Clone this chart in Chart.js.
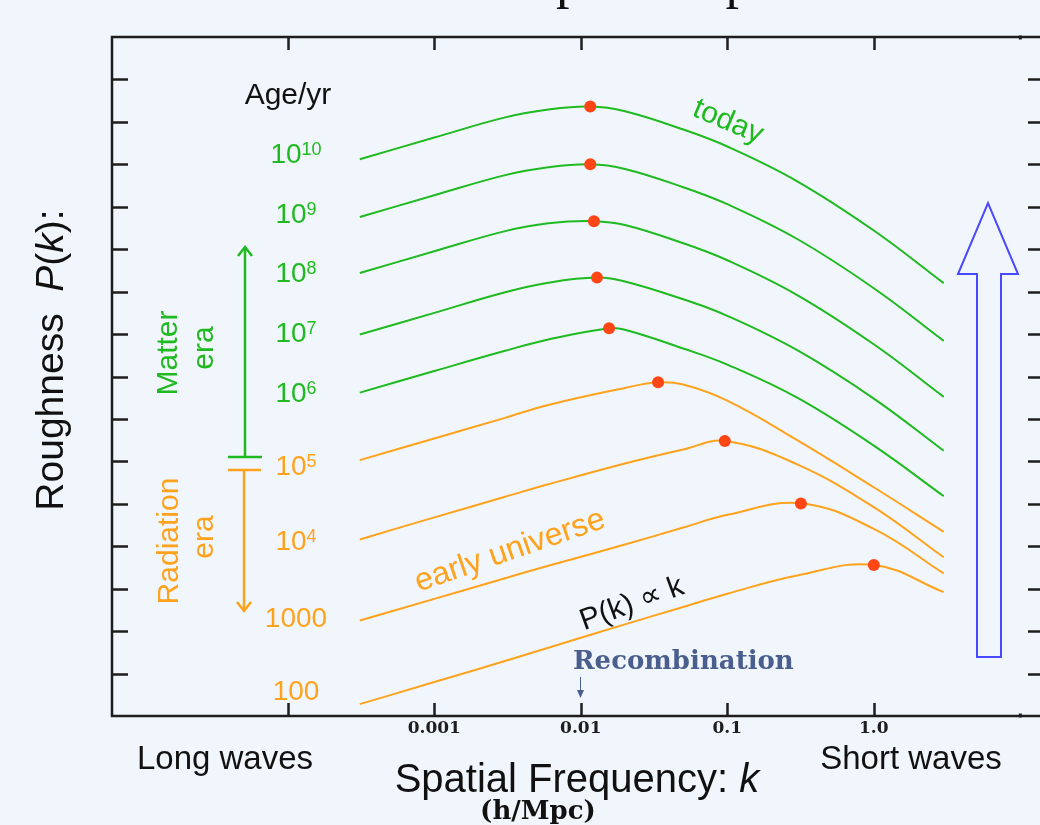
<!DOCTYPE html>
<html>
<head>
<meta charset="utf-8">
<title>Growth of the power spectrum</title>
<script src="https://cdn.jsdelivr.net/npm/chart.js@4.4.1/dist/chart.umd.min.js"></script>
<style>
  html, body { margin: 0; padding: 0; background: #f1f6fd; overflow: hidden; }
  #wrap { width: 1050px; height: 825px; }
</style>
</head>
<body>
<div id="wrap"><canvas id="psChart" width="1050" height="825"></canvas></div>
<script>
const kGrid = [3.1e-4, 1e-3, 3e-3, 6e-3, 0.02, 0.05, 0.1, 0.3, 1, 3];

// log10 P(k) per epoch (decades above the bottom of the frame), one value per kGrid entry
const age1e10 = [13.12, 13.63, 14.10, 14.29, 14.25, 13.82, 13.42, 12.60, 11.44, 10.20];
const age1e9  = [11.76, 12.27, 12.74, 12.93, 12.89, 12.46, 12.06, 11.24, 10.08, 8.84];
const age1e8  = [10.44, 10.95, 11.42, 11.61, 11.57, 11.14, 10.74, 9.92, 8.76, 7.52];
const age1e7  = [8.99, 9.50, 9.98, 10.21, 10.24, 9.82, 9.43, 8.62, 7.48, 6.25];
const age1e6  = [7.62, 8.13, 8.60, 8.87, 9.10, 8.66, 8.28, 7.50, 6.37, 5.18];
const age1e5  = [6.03, 6.54, 7.02, 7.33, 7.73, 7.81, 7.43, 6.50, 5.39, 4.34];
const age1e4  = [4.16, 4.68, 5.16, 5.46, 5.95, 6.28, 6.47, 5.93, 4.92, 3.74];
const age1e3  = [2.25, 2.76, 3.24, 3.54, 4.04, 4.44, 4.74, 5.00, 4.41, 3.36];
const age1e2  = [0.28, 0.80, 1.29, 1.61, 2.16, 2.57, 2.88, 3.31, 3.56, 2.92];

// turnover (peak) of each curve, the red dots
const peakK    = [0.0116, 0.0116, 0.0123, 0.0129, 0.0156, 0.0337, 0.0962, 0.318, 1.0];
const peakLogP = [14.36, 13.00, 11.66, 10.33, 9.135, 7.863, 6.48, 5.01, 3.56];

// age labels on the left: base and superscript
const ageBase = ["10", "10", "10", "10", "10", "10", "10", "1000", "100"];
const ageExp  = ["10", "9", "8", "7", "6", "5", "4", "", ""];

// x axis ticks
const xTickValues = [1e-4, 1e-3, 1e-2, 0.1, 1];
const xTickLabels = ["", "0.001", "0.01", "0.1", "1.0"];

const curves = [age1e10, age1e9, age1e8, age1e7, age1e6, age1e5, age1e4, age1e3, age1e2];
const matterCount = 5; // first five curves are matter era (green)

const GREEN = "#1fba1f";
const ORANGE = "#ffa21c";
const DOT = "#ff4614";
const SANS = "'Liberation Sans', 'DejaVu Sans', sans-serif";
const SERIF = "'DejaVu Serif', 'Liberation Serif', serif";

// merge the grid with the peak point, dropping a grid point that sits on the peak
function buildPoints(values, pk, pv) {
  const pts = [];
  kGrid.forEach(function (k, i) {
    if (Math.abs(Math.log10(k / pk)) > 0.03) pts.push({ x: k, y: values[i] });
  });
  pts.push({ x: pk, y: pv });
  pts.sort(function (a, b) { return a.x - b.x; });
  return pts;
}

const datasets = curves.map(function (vals, i) {
  const col = i < matterCount ? GREEN : ORANGE;
  return {
    data: buildPoints(vals, peakK[i], peakLogP[i]),
    borderColor: col,
    borderWidth: 2,
    pointRadius: 0,
    tension: 0.4,
    order: 2,
  };
});

datasets.push({
  data: peakK.map(function (k, i) { return { x: k, y: peakLogP[i] }; }),
  showLine: false,
  pointRadius: 6,
  pointBackgroundColor: DOT,
  pointBorderWidth: 0,
  order: 1,
});

// draw a string made of parts (some italic), centred at x,y and rotated
function drawParts(ctx, parts, x, y, angle, size, color, baseline) {
  ctx.save();
  ctx.translate(x, y);
  ctx.rotate(angle * Math.PI / 180);
  ctx.fillStyle = color;
  ctx.textAlign = "left";
  ctx.textBaseline = baseline || "alphabetic";
  let total = 0;
  parts.forEach(function (p) {
    ctx.font = (p.italic ? "italic " : "") + (p.bold ? "bold " : "") + size + "px " + (p.family || SANS);
    p.w = ctx.measureText(p.t).width;
    total += p.w;
  });
  let cx = -total / 2;
  parts.forEach(function (p) {
    ctx.font = (p.italic ? "italic " : "") + (p.bold ? "bold " : "") + size + "px " + (p.family || SANS);
    ctx.fillText(p.t, cx, 0);
    cx += p.w;
  });
  ctx.restore();
}

function arrowHead(ctx, x, y, dir) {
  // open "V" arrow head, dir = -1 up, +1 down
  ctx.beginPath();
  ctx.moveTo(x - 7, y - dir * 9);
  ctx.lineTo(x, y);
  ctx.lineTo(x + 7, y - dir * 9);
  ctx.stroke();
}

const decorations = {
  id: "decorations",
  beforeDatasetsDraw(chart) {
    const ctx = chart.ctx;
    const a = chart.chartArea;
    const xs = chart.scales.x, ys = chart.scales.y;
    ctx.save();
    ctx.strokeStyle = "#1e1e1e";
    ctx.lineWidth = 2.5;
    ctx.beginPath();
    ctx.moveTo(a.right, a.top);
    ctx.lineTo(a.left, a.top);
    ctx.lineTo(a.left, a.bottom);
    ctx.lineTo(a.right, a.bottom);
    ctx.lineTo(a.right, a.top);
    ctx.stroke();

    // inward ticks on left and right (one per decade of P)
    for (let v = 1; v < 16; v++) {
      const y = Math.round(ys.getPixelForValue(v)) + 0.5;
      ctx.beginPath();
      ctx.moveTo(a.left, y); ctx.lineTo(a.left + 16, y);
      ctx.moveTo(a.right - 15, y); ctx.lineTo(a.right, y);
      ctx.stroke();
    }
    // inward ticks on top and bottom (one per decade of k)
    xTickValues.forEach(function (k) {
      const x = Math.round(xs.getPixelForValue(k)) + 0.5;
      ctx.beginPath();
      ctx.moveTo(x, a.bottom); ctx.lineTo(x, a.bottom - 13);
      ctx.moveTo(x, a.top); ctx.lineTo(x, a.top + 13);
      ctx.stroke();
    });
    const x10 = xs.getPixelForValue(10);
    ctx.fillStyle = "#1e1e1e";
    ctx.fillRect(x10 - 1.5, a.top - 1.5, 3, 4);
    ctx.fillRect(x10 - 1.5, a.bottom - 2.5, 3, 4);

    // tick labels
    ctx.fillStyle = "#1e1e1e";
    ctx.font = "bold 17px " + SERIF;
    ctx.textAlign = "center";
    ctx.textBaseline = "middle";
    xTickValues.forEach(function (k, i) {
      if (xTickLabels[i]) ctx.fillText(xTickLabels[i], xs.getPixelForValue(k), 729);
    });
    ctx.restore();
  },
  afterDraw(chart) {
    const ctx = chart.ctx;
    ctx.save();

    // title, almost entirely above the top edge
    ctx.fillStyle = "#111";
    ctx.font = "54px 'Liberation Serif', serif";
    ctx.textAlign = "left";
    ctx.textBaseline = "alphabetic";
    const lead = "Growth of the ";
    ctx.fillText(lead + "power spectrum", 556 - ctx.measureText(lead).width, -3);

    // axis titles
    drawParts(ctx, [{ t: "Roughness  " }, { t: "P", italic: true }, { t: "(" }, { t: "k", italic: true }, { t: "):" }],
      63, 360, -90, 39, "#111");
    drawParts(ctx, [{ t: "Spatial Frequency: " }, { t: "k", italic: true }], 577, 792, 0, 40, "#111");
    drawParts(ctx, [{ t: "(h/Mpc)", bold: true, family: SERIF }], 538, 819, 0, 26, "#111");
    drawParts(ctx, [{ t: "Long waves" }], 225, 769, 0, 33, "#111");
    drawParts(ctx, [{ t: "Short waves" }], 911, 769, 0, 33, "#111");
    drawParts(ctx, [{ t: "Age/yr" }], 288, 104, 0, 30, "#111");

    // age labels with superscripts
    const labelY = [153, 213, 272, 332, 392, 465, 540, 617, 690];
    ageBase.forEach(function (b, i) {
      ctx.fillStyle = i < matterCount ? GREEN : ORANGE;
      ctx.textBaseline = "alphabetic";
      ctx.textAlign = "left";
      ctx.font = "28px " + SANS;
      const wb = ctx.measureText(b).width;
      ctx.font = "18px " + SANS;
      const we = ageExp[i] ? ctx.measureText(ageExp[i]).width : 0;
      const x0 = 296 - (wb + we) / 2;
      const base = labelY[i] + 10;
      ctx.font = "28px " + SANS;
      ctx.fillText(b, x0, base);
      if (ageExp[i]) {
        ctx.font = "18px " + SANS;
        ctx.fillText(ageExp[i], x0 + wb, base - 8);
      }
    });

    // era labels and arrows
    drawParts(ctx, [{ t: "Matter" }], 177, 353, -90, 30, GREEN);
    drawParts(ctx, [{ t: "era" }], 213, 348, -90, 30, GREEN);
    drawParts(ctx, [{ t: "Radiation" }], 178, 541, -90, 30, ORANGE);
    drawParts(ctx, [{ t: "era" }], 213, 537, -90, 30, ORANGE);
    ctx.lineWidth = 2.5;
    ctx.strokeStyle = GREEN;
    ctx.beginPath();
    ctx.moveTo(245, 457); ctx.lineTo(245, 248);
    ctx.moveTo(228, 457); ctx.lineTo(262, 457);
    ctx.stroke();
    arrowHead(ctx, 245, 247, -1);
    ctx.strokeStyle = ORANGE;
    ctx.beginPath();
    ctx.moveTo(228, 470); ctx.lineTo(261, 470);
    ctx.moveTo(244, 470); ctx.lineTo(244, 610);
    ctx.stroke();
    arrowHead(ctx, 244, 611, 1);

    // annotations along the curves
    drawParts(ctx, [{ t: "today" }], 728, 122, 23, 30, GREEN, "middle");
    drawParts(ctx, [{ t: "early universe" }], 510, 551, -19, 32, ORANGE, "middle");
    drawParts(ctx, [{ t: "P(k) \u221D k" }], 632, 604, -20, 30, "#111", "middle");

    // recombination marker
    ctx.fillStyle = "#4b5f8e";
    ctx.font = "bold 26px " + SERIF;
    ctx.textAlign = "left";
    ctx.textBaseline = "alphabetic";
    ctx.fillText("Recombination", 573, 669);
    ctx.strokeStyle = "#4b5f8e";
    ctx.lineWidth = 1;
    ctx.beginPath();
    ctx.moveTo(580.5, 677); ctx.lineTo(580.5, 697);
    ctx.stroke();
    ctx.beginPath();
    ctx.moveTo(577, 690); ctx.lineTo(580.5, 698); ctx.lineTo(584, 690);
    ctx.closePath();
    ctx.fillStyle = "#4b5f8e";
    ctx.fill();

    // big hollow arrow on the right (growth with time)
    ctx.strokeStyle = "#4848ff";
    ctx.lineWidth = 2;
    ctx.beginPath();
    ctx.moveTo(977, 657);
    ctx.lineTo(1001, 657);
    ctx.lineTo(1001, 274);
    ctx.lineTo(1018, 274);
    ctx.lineTo(988, 203);
    ctx.lineTo(958, 274);
    ctx.lineTo(977, 274);
    ctx.closePath();
    ctx.stroke();

    ctx.restore();
  },
};

const chart = new Chart(document.getElementById("psChart"), {
  type: "line",
  data: { datasets: datasets },
  options: {
    responsive: false,
    animation: false,
    layout: { padding: { left: 112, top: 37, right: 7, bottom: 109 } },
    plugins: { legend: { display: false }, tooltip: { enabled: false } },
    scales: {
      x: { type: "logarithmic", display: false, min: Math.pow(10, -5.2), max: Math.pow(10, 1.155) },
      y: { type: "linear", display: false, min: 0, max: 16 },
    },
  },
  plugins: [decorations],
});
</script>
</body>
</html>
